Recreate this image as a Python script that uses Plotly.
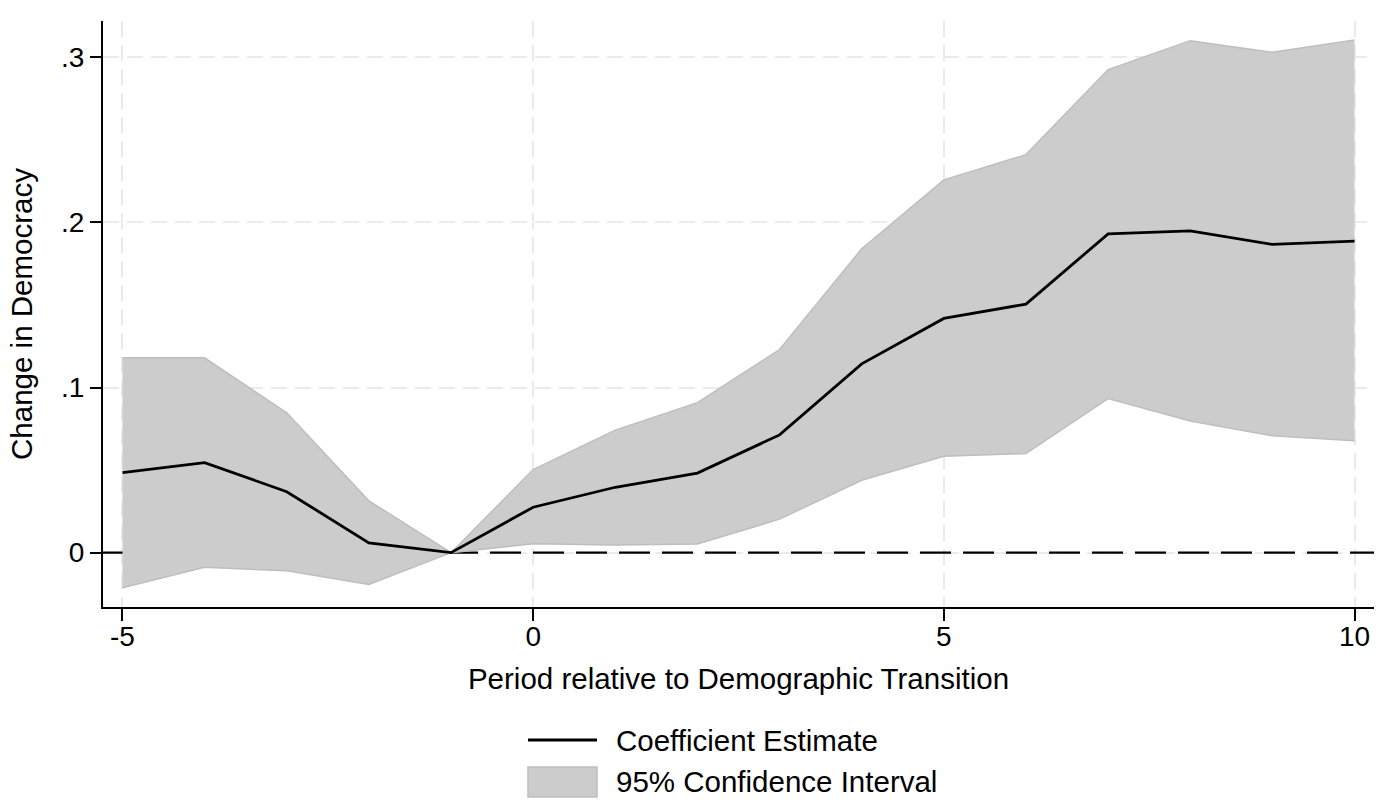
import plotly.graph_objects as go

periods = [-5, -4, -3, -2, -1, 0, 1, 2, 3, 4, 5, 6, 7, 8, 9, 10]
coef = [0.0485, 0.0545, 0.0369, 0.0059, 0.0, 0.0275, 0.0396, 0.0482, 0.0713, 0.1143,
        0.1418, 0.1505, 0.1930, 0.1948, 0.1866, 0.1886]
ci_upper = [0.118, 0.118, 0.0847, 0.0314, 0.0, 0.0503, 0.0742, 0.0908, 0.1230, 0.1840,
            0.2257, 0.2410, 0.2925, 0.3100, 0.3030, 0.3104]
ci_lower = [-0.0213, -0.0089, -0.0110, -0.0193, 0.0, 0.0054, 0.0047, 0.0052, 0.0203, 0.0438,
            0.0584, 0.0600, 0.0933, 0.0797, 0.0708, 0.0678]
x_ticks = [-5, 0, 5, 10]
y_ticks = [0, 0.1, 0.2, 0.3]
y_tick_labels = ["0", ".1", ".2", ".3"]
legend_labels = ["Coefficient Estimate", "95% Confidence Interval"]
x_range = [-5.237, 10.237]
y_range = [-0.0329, 0.3219]

FONT = "Liberation Sans, Arial, sans-serif"
fill_col = "rgb(204,204,204)"
edge_col = "rgb(190,190,190)"

W, H = 1391, 804
L, R, T, B = 103, 17, 21, 197
PW, PH = W - L - R, H - T - B


def px_x(p):
    return (p - L) / PW


def px_y(p):
    return (H - B - p) / PH


fig = go.Figure()
# reference line at zero (drawn under the band)
fig.add_trace(go.Scatter(x=x_range, y=[0, 0], mode="lines",
                         line=dict(color="black", width=2.4, dash="31px,12px"),
                         showlegend=False, hoverinfo="skip", cliponaxis=False))
fig.add_trace(go.Scatter(x=periods, y=ci_lower, mode="lines",
                         line=dict(color=edge_col, width=1.5),
                         showlegend=False, hoverinfo="skip"))
fig.add_trace(go.Scatter(x=periods, y=ci_upper, mode="lines", fill="tonexty",
                         fillcolor=fill_col, line=dict(color=edge_col, width=1.5),
                         name=legend_labels[1], showlegend=False))
fig.add_trace(go.Scatter(x=periods, y=coef, mode="lines",
                         line=dict(color="black", width=2.8),
                         name=legend_labels[0], showlegend=False))

# manual legend
fig.add_shape(type="line", xref="paper", yref="paper",
              x0=px_x(528), x1=px_x(597), y0=px_y(740), y1=px_y(740),
              line=dict(color="black", width=2.8))
fig.add_shape(type="rect", xref="paper", yref="paper",
              x0=px_x(528), x1=px_x(597), y0=px_y(797), y1=px_y(767),
              fillcolor=fill_col, line=dict(color=edge_col, width=1.5))
for lab, yy in zip(legend_labels, [740, 782]):
    fig.add_annotation(text=lab, xref="paper", yref="paper", x=px_x(614), y=px_y(yy),
                       xanchor="left", yanchor="middle", showarrow=False,
                       font=dict(size=29.5, family=FONT, color="black"))

fig.update_layout(
    width=W, height=H,
    margin=dict(l=L, r=R, t=T, b=B, autoexpand=False),
    paper_bgcolor="white", plot_bgcolor="white",
    font=dict(family=FONT, size=28, color="black"),
    showlegend=False,
)
fig.update_xaxes(
    range=x_range, tickvals=x_ticks, ticktext=[str(v) for v in x_ticks],
    showline=True, linecolor="black", linewidth=2,
    ticks="outside", ticklen=12, tickwidth=2, tickcolor="black",
    showgrid=True, gridcolor="rgb(234,234,234)", gridwidth=2, griddash="16px,8px",
    zeroline=False, mirror=False, tickfont=dict(size=28), ticklabelstandoff=-9,
    title=dict(text="Period relative to Demographic Transition", font=dict(size=29.5), standoff=18),
)
fig.update_yaxes(
    range=y_range, tickvals=y_ticks, ticktext=y_tick_labels,
    showline=True, linecolor="black", linewidth=2,
    ticks="outside", ticklen=11, tickwidth=2, tickcolor="black",
    showgrid=True, gridcolor="rgb(234,234,234)", gridwidth=2, griddash="16px,8px",
    zeroline=False, tickfont=dict(size=28),
    title=dict(text="Change in Democracy", font=dict(size=29.5), standoff=20),
)

fig.write_html("out.html", config={"displayModeBar": False},
               post_script="document.body.style.margin='0px';")
